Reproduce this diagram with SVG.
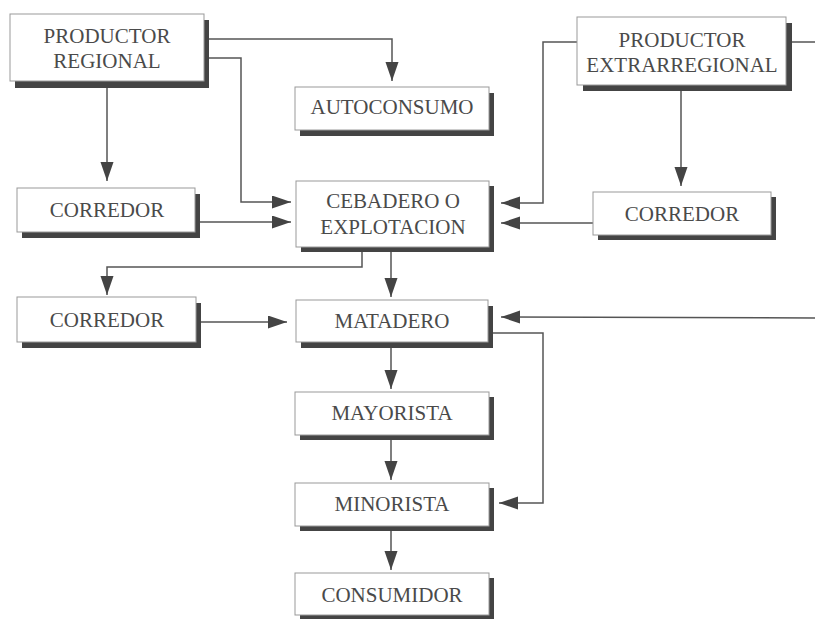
<svg xmlns="http://www.w3.org/2000/svg" width="815" height="619" viewBox="0 0 815 619">
<style>
.sh{fill:#444;}
.bx{fill:#fff;stroke:#999;stroke-width:1;}
.t{font-family:"Liberation Serif","Times New Roman",serif;font-size:21px;fill:#4a4a4a;text-anchor:middle;}
.c{fill:none;stroke:#555;stroke-width:1.5;}
</style>
<defs>
<marker id="ah" markerUnits="userSpaceOnUse" markerWidth="20" markerHeight="14" refX="19" refY="6.5" orient="auto">
<path d="M0,0 L19,6.5 L0,13 z" fill="#444"/>
</marker>
</defs>
<rect width="815" height="619" fill="#fff"/>
<g id="connectors">
<polyline class="c" points="204,39 392,39 392,81" marker-end="url(#ah)"/>
<polyline class="c" points="204,58 241,58 241,202 291,202" marker-end="url(#ah)"/>
<polyline class="c" points="107,88 107,181" marker-end="url(#ah)"/>
<polyline class="c" points="200,222 291,222" marker-end="url(#ah)"/>
<polyline class="c" points="577,42 543,42 543,203 501,203" marker-end="url(#ah)"/>
<polyline class="c" points="681,91 681,186" marker-end="url(#ah)"/>
<polyline class="c" points="593,223 501,223" marker-end="url(#ah)"/>
<polyline class="c" points="792,42 815,42"/>
<polyline class="c" points="362,252 362,267 107,267 107,295" marker-end="url(#ah)"/>
<polyline class="c" points="391,252 391,297" marker-end="url(#ah)"/>
<polyline class="c" points="201,322 287,322" marker-end="url(#ah)"/>
<polyline class="c" points="815,318 501,317" marker-end="url(#ah)"/>
<polyline class="c" points="493,333 543,333 543,503 499,503" marker-end="url(#ah)"/>
<polyline class="c" points="391,348 391,389" marker-end="url(#ah)"/>
<polyline class="c" points="391,440 391,480" marker-end="url(#ah)"/>
<polyline class="c" points="391,531 391,570" marker-end="url(#ah)"/>
</g>
<g id="productor-regional">
<rect class="sh" x="15" y="20" width="194" height="68"/>
<rect class="bx" x="10" y="14" width="194" height="67"/>
<text class="t" x="107" y="43">PRODUCTOR</text>
<text class="t" x="107" y="68">REGIONAL</text>
</g>
<g id="autoconsumo">
<rect class="sh" x="300" y="93" width="194" height="43"/>
<rect class="bx" x="295" y="87" width="194" height="43"/>
<text class="t" x="392" y="114">AUTOCONSUMO</text>
</g>
<g id="productor-extrarregional">
<rect class="sh" x="583" y="23" width="209" height="68"/>
<rect class="bx" x="577" y="17" width="209" height="68"/>
<text class="t" x="682" y="47">PRODUCTOR</text>
<text class="t" x="682" y="72">EXTRARREGIONAL</text>
</g>
<g id="corredor-1">
<rect class="sh" x="22" y="194" width="178" height="44"/>
<rect class="bx" x="17" y="188" width="178" height="44"/>
<text class="t" x="107" y="217">CORREDOR</text>
</g>
<g id="cebadero">
<rect class="sh" x="301" y="186" width="193" height="66"/>
<rect class="bx" x="296" y="181" width="193" height="66"/>
<text class="t" x="393" y="208">CEBADERO O</text>
<text class="t" x="393" y="234">EXPLOTACION</text>
</g>
<g id="corredor-2">
<rect class="sh" x="598" y="197" width="178" height="43"/>
<rect class="bx" x="593" y="192" width="178" height="43"/>
<text class="t" x="682" y="221">CORREDOR</text>
</g>
<g id="corredor-3">
<rect class="sh" x="22" y="303" width="179" height="45"/>
<rect class="bx" x="17" y="297" width="179" height="45"/>
<text class="t" x="107" y="327">CORREDOR</text>
</g>
<g id="matadero">
<rect class="sh" x="301" y="306" width="192" height="42"/>
<rect class="bx" x="296" y="300" width="192" height="42"/>
<text class="t" x="392" y="328">MATADERO</text>
</g>
<g id="mayorista">
<rect class="sh" x="300" y="397" width="194" height="43"/>
<rect class="bx" x="295" y="392" width="194" height="43"/>
<text class="t" x="392" y="420">MAYORISTA</text>
</g>
<g id="minorista">
<rect class="sh" x="300" y="488" width="194" height="43"/>
<rect class="bx" x="295" y="483" width="194" height="43"/>
<text class="t" x="392" y="511">MINORISTA</text>
</g>
<g id="consumidor">
<rect class="sh" x="300" y="578" width="194" height="42"/>
<rect class="bx" x="295" y="573" width="194" height="42"/>
<text class="t" x="392" y="602">CONSUMIDOR</text>
</g>
</svg>
